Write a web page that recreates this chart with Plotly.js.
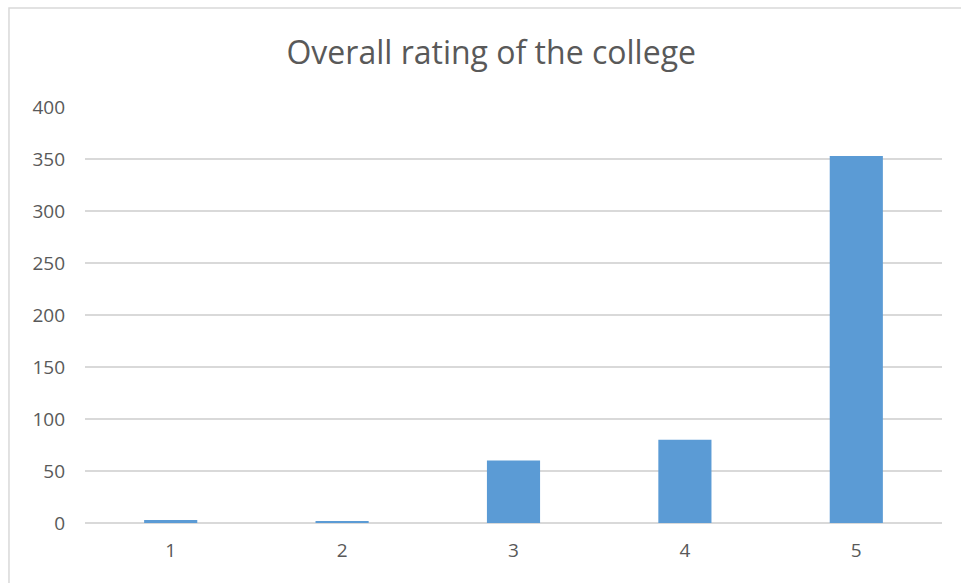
<!DOCTYPE html>
<html>
<head>
<meta charset="utf-8">
<script src="https://cdn.plot.ly/plotly-3.0.1.min.js"></script>
<style>html,body{margin:0;padding:0;background:#fff;}#chart{width:961px;height:583px;}</style>
</head>
<body>
<div id="chart"></div>
<script>
const categories = ["1", "2", "3", "4", "5"];
const counts = [3, 2, 60, 80, 353];
const yTicks = [0, 50, 100, 150, 200, 250, 300, 350, 400];

const trace = {
  type: "bar",
  x: categories,
  y: counts,
  marker: {color: "#5b9bd5"},
  hoverinfo: "x+y"
};

const layout = {
  width: 961,
  height: 583,
  margin: {l: 85, r: 19, t: 107, b: 60},
  paper_bgcolor: "#ffffff",
  plot_bgcolor: "#ffffff",
  bargap: 0.69,
  showlegend: false,
  font: {family: "Open Sans, Liberation Sans, sans-serif", color: "#595959", size: 19},
  title: {
    text: "Overall rating of the college",
    font: {family: "Open Sans, Liberation Sans, sans-serif", size: 32, color: "#595959"},
    x: 0.474, xanchor: "center", xref: "paper",
    y: 0.909, yanchor: "middle"
  },
  xaxis: {
    type: "category",
    tickfont: {size: 19, color: "#595959"},
    showgrid: false,
    showline: false,
    ticks: "",
    ticklabelstandoff: 14
  },
  yaxis: {
    range: [0, 400],
    tickvals: yTicks,
    ticktext: yTicks.map(String),
    tickfont: {size: 19, color: "#595959"},
    gridcolor: "#d9d9d9",
    gridwidth: 2,
    zeroline: true,
    zerolinecolor: "#d9d9d9",
    zerolinewidth: 2,
    showline: false,
    ticks: "",
    ticklabelstandoff: 19
  },
  shapes: [{
    type: "rect", xref: "paper", yref: "paper",
    x0: -0.0887, x1: 1.2, y0: -0.3, y1: 1.238,
    line: {color: "#d9d9d9", width: 1.5},
    fillcolor: "rgba(0,0,0,0)",
    layer: "below"
  }]
};

Plotly.newPlot("chart", [trace], layout, {displayModeBar: false, staticPlot: true});
</script>
</body>
</html>
